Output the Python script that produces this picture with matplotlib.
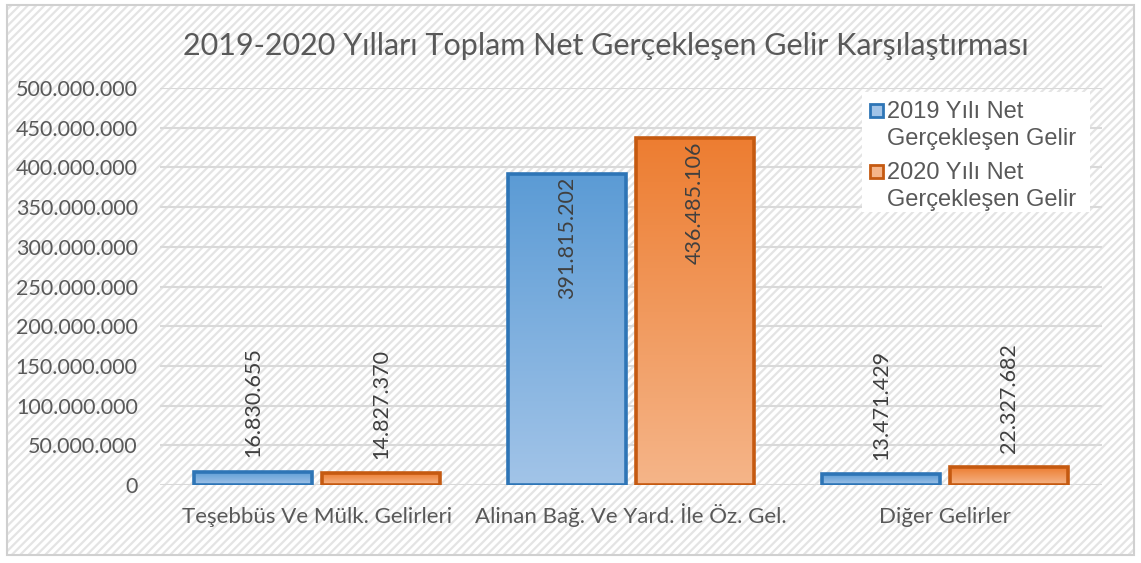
import matplotlib.pyplot as plt
import matplotlib.patches as mpatches
import matplotlib.colors as mcolors
import numpy as np

# data
categories = ["Teşebbüs Ve Mülk. Gelirleri", "Alinan Bağ. Ve Yard. İle Öz. Gel.", "Diğer Gelirler"]
gelir_2019 = [16830655, 391815202, 13471429]
gelir_2020 = [14827370, 436485106, 22327682]
series_names = [["2019 Yılı Net", "Gerçekleşen Gelir"], ["2020 Yılı Net", "Gerçekleşen Gelir"]]
yticks = [0, 50e6, 100e6, 150e6, 200e6, 250e6, 300e6, 350e6, 400e6, 450e6, 500e6]

title_font = "Lato"
blue_edge, blue_top, blue_bot = "#2E75B6", "#5B9BD5", "#A2C4E8"
orange_edge, orange_top, orange_bot = "#C55A11", "#ED7D31", "#F5B589"

W, H = 1141, 563


def fmt(v):
    return "{:,.0f}".format(v).replace(",", ".")


def fx(px):
    return px / W


def fy(py):
    return 1 - py / H


plt.rcParams["hatch.linewidth"] = 1.6
fig = plt.figure(figsize=(11.41, 5.63), dpi=100)

# hatched background + border
bg = mpatches.Rectangle((0.006, 0.014), 0.988, 0.978, transform=fig.transFigure,
                        facecolor="white", edgecolor="#e4e4e4", hatch="////",
                        linewidth=0, zorder=-3)
fig.patches.append(bg)
border = mpatches.Rectangle((0.006, 0.014), 0.988, 0.978, transform=fig.transFigure,
                            facecolor="none", edgecolor="#d0d0d0", linewidth=1.5, zorder=-2)
fig.patches.append(border)

ax = fig.add_axes([0.1402, 0.1385, 0.8256, 0.7052])
ax.patch.set_alpha(0)

x = np.arange(len(categories))
w = 0.376
off = 0.204


def grad_bars(xs, vals, top, bot, edge):
    cmap = mcolors.LinearSegmentedColormap.from_list("g", [bot, top])
    bars = ax.bar(xs, vals, w, facecolor="none", edgecolor=edge, linewidth=2.6, zorder=4)
    for b in bars:
        x0, y0 = b.get_x(), b.get_y()
        h = b.get_height()
        grad = np.linspace(0, 1, 256).reshape(-1, 1)
        im = ax.imshow(grad, cmap=cmap, origin="lower", aspect="auto",
                       extent=[x0, x0 + w, y0, y0 + h], zorder=3)
        im.set_clip_path(b)
    return bars


grad_bars(x - off, gelir_2019, blue_top, blue_bot, blue_edge)
grad_bars(x + off, gelir_2020, orange_top, orange_bot, orange_edge)

for xs, vals in [(x - off, gelir_2019), (x + off, gelir_2020)]:
    for xi, v in zip(xs, vals):
        if v > 100e6:
            ax.text(xi, v - 4e6, fmt(v), rotation=90, ha="center", va="top",
                    fontsize=15.5, color="#404040", family=title_font, zorder=5)
        else:
            ax.text(xi, v + 18e6, fmt(v), rotation=90, ha="center", va="bottom",
                    fontsize=15.5, color="#404040", family=title_font, zorder=5)

ax.set_xlim(-0.5, 2.5)
ax.set_ylim(0, 500e6)
ax.set_yticks(yticks)
ax.set_yticklabels([fmt(t) for t in yticks], fontsize=15.5, color="#595959", family=title_font)
ax.set_xticks(x)
ax.set_xticklabels(categories, fontsize=16, color="#595959", family=title_font)
for lab in ax.get_xticklabels():
    lab.set_va("baseline")
ax.tick_params(length=0)
ax.tick_params(axis="y", pad=16)
ax.tick_params(axis="x", pad=27)
ax.grid(axis="y", color="#d9d9d9", linewidth=1.5, zorder=1)
ax.set_axisbelow(True)
for s in ax.spines.values():
    s.set_visible(False)

fig.text(0.531, 0.918, "2019-2020 Yılları Toplam Net Gerçekleşen Gelir Karşılaştırması",
         ha="center", va="center", fontsize=22, color="#595959", family=title_font)

# legend, drawn by hand so the marker sits on the first line
fig.patches.append(mpatches.Rectangle((fx(862), fy(212)), fx(1090) - fx(862), fy(92) - fy(212),
                                      transform=fig.transFigure, facecolor="white",
                                      edgecolor="none", zorder=6))
leg_colors = [(blue_bot, blue_edge), (orange_bot, orange_edge)]
for i, (lines, (fc, ec)) in enumerate(zip(series_names, leg_colors)):
    top = 103 + i * 61
    fig.patches.append(mpatches.Rectangle((fx(870), fy(top + 14)), fx(13), 13 / H,
                                          transform=fig.transFigure, facecolor=fc,
                                          edgecolor=ec, linewidth=2, zorder=7))
    for j, line in enumerate(lines):
        fig.text(fx(887), fy(top + 15 + j * 27), line, ha="left", va="baseline",
                 fontsize=17, color="#595959", family="Liberation Sans", zorder=8)

fig.savefig("out.png", dpi=100)
